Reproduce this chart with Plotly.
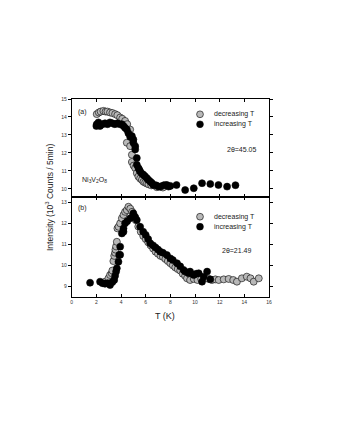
import plotly.graph_objects as go

# panel (a): 2theta = 45.05
a_dec_T = [2.03, 2.2, 2.35, 2.57, 2.75, 2.9, 3.11, 3.3, 3.52, 3.7, 3.93, 4.1, 4.33, 4.5, 4.74,
           4.47, 4.74, 4.88, 4.88, 5.02, 5.15, 5.28, 5.41, 5.55, 5.69, 5.82, 5.96, 6.1, 6.23,
           6.45, 6.63, 6.9, 7.18, 7.4, 7.59]
a_dec_I = [14.16, 14.25, 14.3, 14.34, 14.3, 14.3, 14.25, 14.22, 14.16, 14.1, 13.97, 13.9, 13.78, 13.6, 13.3,
           12.57, 12.38, 11.9, 11.5, 11.3, 11.16, 10.88, 10.69, 10.58, 10.5, 10.4, 10.35, 10.3, 10.26,
           10.2, 10.22, 10.1, 10.13, 10.08, 10.22]

a_inc_T = [2.0, 2.03, 2.17, 2.3, 2.5, 2.7, 2.9, 3.1, 3.3, 3.5, 3.7, 3.9, 4.07, 4.2, 4.33, 4.47,
           4.6, 4.74, 4.88, 5.0, 5.0, 5.15, 5.15, 5.28, 5.28, 5.41, 5.48, 5.55, 5.7, 5.82, 5.95,
           6.1, 6.23, 6.37, 6.5, 6.63, 6.85, 7.04, 7.2, 7.45, 7.72, 7.85, 8.0, 8.5, 9.2, 9.9,
           10.57, 11.24, 11.9, 12.6, 13.28]
a_inc_I = [13.5, 13.6, 13.7, 13.5, 13.6, 13.65, 13.6, 13.7, 13.65, 13.6, 13.65, 13.6, 13.6, 13.5, 13.4, 13.3,
           13.1, 12.9, 12.94, 12.75, 12.57, 12.38, 12.2, 11.72, 11.35, 11.16, 11.07, 10.97, 10.85, 10.79, 10.7,
           10.6, 10.5, 10.41, 10.33, 10.22, 10.2, 10.13, 10.13, 10.2, 10.22, 10.13, 10.17, 10.22, 9.94, 10.04,
           10.32, 10.28, 10.22, 10.13, 10.21]

# panel (b): 2theta = 21.49
b_dec_T = [2.7, 2.98, 3.11, 3.25, 3.3, 3.38, 3.45, 3.52, 3.55, 3.6, 3.66, 3.71, 3.8, 3.93, 4.07,
           4.2, 4.33, 4.47, 4.6, 4.75, 4.9, 5.05, 5.2, 5.4, 5.6, 5.8, 6.0, 6.2, 6.4, 6.6, 6.8,
           7.0, 7.2, 7.4, 7.6, 7.8, 8.0, 8.2, 8.4, 8.6, 8.8, 9.0, 9.2, 9.35, 9.6, 9.9, 10.2,
           10.5, 10.8, 11.1, 11.38, 11.65, 11.92, 12.33, 12.73, 13.1, 13.4, 13.8, 14.2, 14.5,
           14.76, 15.17]
b_dec_I = [9.22, 9.38, 9.54, 9.62, 9.75, 10.2, 10.45, 10.6, 10.75, 10.9, 11.12, 11.76, 11.84, 12.0, 12.24,
           12.4, 12.55, 12.63, 12.79, 12.7, 12.55, 12.35, 12.15, 11.85, 11.6, 11.4, 11.25, 11.1, 10.95, 10.8, 10.65,
           10.55, 10.45, 10.4, 10.3, 10.2, 10.1, 10.0, 9.9, 9.82, 9.75, 9.6, 9.5, 9.38, 9.3, 9.35, 9.3,
           9.35, 9.4, 9.35, 9.3, 9.33, 9.3, 9.33, 9.35, 9.3, 9.22, 9.38, 9.46, 9.38,
           9.22, 9.38]

b_inc_T = [1.49, 2.3, 2.5, 2.7, 2.9, 3.11, 3.3, 3.45, 3.52, 3.6, 3.66, 3.79, 3.85, 3.93, 3.93,
           4.07, 4.2, 4.2, 4.33, 4.5, 4.74, 5.0, 5.15, 5.28, 5.55, 5.8, 6.0, 6.2, 6.37, 6.6,
           6.8, 7.0, 7.18, 7.4, 7.72, 8.0, 8.2, 8.54, 8.8, 9.07, 9.2, 9.48, 9.6, 9.89, 10.1,
           10.3, 10.57, 10.7, 10.98, 11.24]
b_inc_I = [9.17, 9.22, 9.15, 9.12, 9.15, 9.06, 9.2, 9.3, 9.5, 9.7, 9.86, 10.17, 10.49, 10.5, 10.89,
           11.52, 11.6, 11.76, 12.0, 12.1, 12.24, 12.48, 12.3, 12.16, 11.84, 11.6, 11.45, 11.25, 11.05, 10.95,
           10.85, 10.75, 10.65, 10.6, 10.49, 10.33, 10.25, 10.1, 9.95, 9.78, 9.7, 9.62, 9.7, 9.54, 9.6,
           9.62, 9.22, 9.46, 9.7, 9.33]

legend_names = ["decreasing T", "increasing T"]

GRAY = "#b8b8b8"
TXT = "#222222"
FONT = "Liberation Sans, Arial, sans-serif"

fig = go.Figure()

def add(T, I, color, name, xa, ya):
    fig.add_trace(go.Scatter(
        x=T, y=I, mode="markers", name=name, xaxis=xa, yaxis=ya, showlegend=False,
        marker=dict(size=7, color=color, line=dict(color="black", width=0.6)),
    ))

add(a_dec_T, a_dec_I, GRAY, legend_names[0], "x", "y")
add(a_inc_T, a_inc_I, "black", legend_names[1], "x", "y")
add(b_dec_T, b_dec_I, GRAY, legend_names[0], "x2", "y2")
add(b_inc_T, b_inc_I, "black", legend_names[1], "x2", "y2")

W, H = 337, 436
OFF = 8  # page margin around the plot div

def px(x):
    return (x - OFF) / W

def py(y):
    return (H - (y - OFF)) / H

xdom = [px(71.7), px(269)]
top_dom = [py(196.7), py(99)]
bot_dom = [py(297), py(196.7)]

ax_common = dict(showline=True, linecolor="black", linewidth=0.8, mirror="ticks",
                 showgrid=False, zeroline=False, ticklen=3, tickwidth=0.7, tickcolor="black",
                 tickfont=dict(size=5, color="#333333", family=FONT))

fig.update_layout(
    template="none",
    width=W, height=H,
    margin=dict(l=0, r=0, t=0, b=0),
    paper_bgcolor="white", plot_bgcolor="white",
    font=dict(family=FONT, color=TXT),
    showlegend=False,
    xaxis=dict(domain=xdom, anchor="y", range=[0, 16], dtick=2, showticklabels=False,
               ticks="inside", **ax_common),
    yaxis=dict(domain=top_dom, anchor="x", range=[9.57, 15.0], dtick=1, ticks="outside",
               **ax_common),
    xaxis2=dict(domain=xdom, anchor="y2", range=[0, 16], dtick=2, ticks="inside", **ax_common),
    yaxis2=dict(domain=bot_dom, anchor="x2", range=[8.49, 13.27], dtick=1, ticks="outside",
                **ax_common),
)

def note(text, x, y, size=7, angle=0, anchor="center"):
    fig.add_annotation(text=text, x=px(x), y=py(y), xref="paper", yref="paper",
                       showarrow=False, textangle=angle, xanchor=anchor, yanchor="middle",
                       font=dict(size=size, color=TXT, family=FONT))

# legend keys (one block per panel)
def legend_block(y0):
    for k, (name, fill) in enumerate(zip(legend_names, [GRAY, "black"])):
        cy = y0 + 10 * k
        r = 3.4
        fig.add_shape(type="circle", xref="paper", yref="paper",
                      x0=px(200 - r), x1=px(200 + r),
                      y0=py(cy + r), y1=py(cy - r),
                      fillcolor=fill, line=dict(color="black", width=0.6))
        note(name, 212, cy, size=7, anchor="left")

legend_block(114.3)
legend_block(216.7)

note("(a)", 82, 112)
note("(b)", 82, 208)
note("Ni<sub>3</sub>V<sub>2</sub>O<sub>8</sub>", 95, 180)
note("2θ=45.05", 241, 149)
note("2θ=21.49", 236, 250)
note("T (K)", 165, 316, size=9)
note("Intensity (10<sup>3</sup> Counts / 5min)", 49, 198, size=8.5, angle=-90)

fig.write_html("out.html")
